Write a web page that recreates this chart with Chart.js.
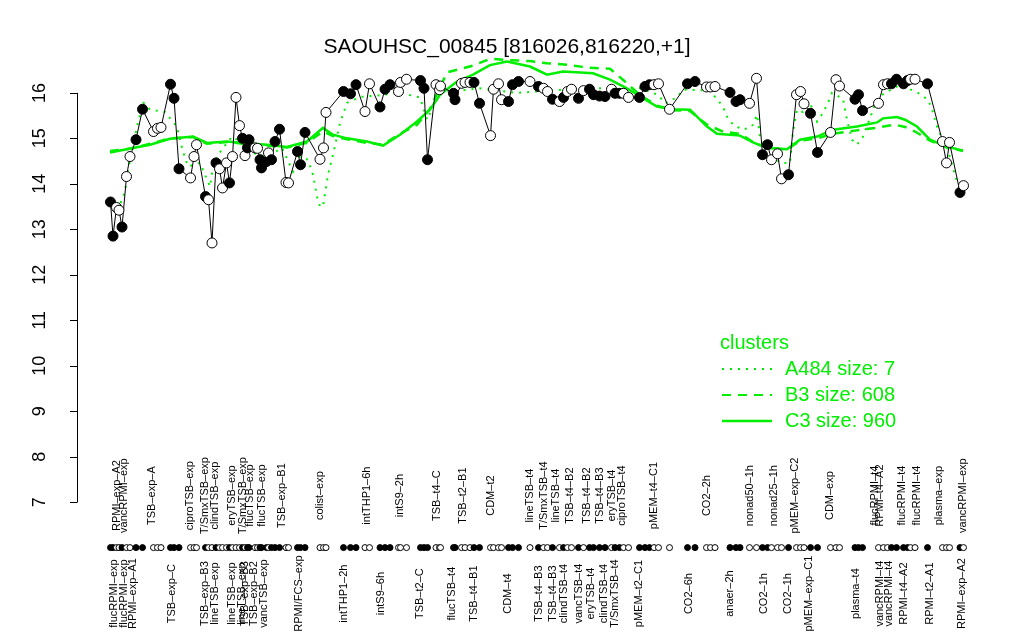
<!DOCTYPE html>
<html>
<head>
<meta charset="utf-8">
<script src="https://cdn.jsdelivr.net/npm/chart.js@4/dist/chart.umd.min.js"></script>
<style>
  html, body { margin: 0; padding: 0; background: #fff; }
  #wrap { width: 1024px; height: 640px; }
</style>
</head>
<body>
<div id="wrap"><canvas id="c" width="1024" height="640"></canvas></div>
<script>
// sample positions along the x axis (arbitrary units, 1 unit ~ one sample slot)
const X_POS = [6.5,7.0,7.7,8.2,8.8,9.7,10.4,11.6,12.9,15.1,15.9,16.6,18.5,19.2,20.2,22.5,23.2,23.7,25.5,26.1,
  26.8,27.6,28.3,28.9,29.7,30.3,30.9,31.6,32.3,32.9,33.4,33.9,34.2,35.4,35.9,36.4,36.7,37.7,38.1,38.7,
  39.4,40.3,41.6,42.1,43.9,44.5,45.4,48.4,49.1,49.6,53.1,54.5,55.6,57.4,58.3,60.4,61.4,62.4,64.1,64.5,
  65.7,68.5,69.2,69.9,71.6,72.3,72.5,75.1,75.4,76.7,77.4,78.4,79.2,80.3,82.5,83.1,84.1,84.7,86.1,86.9,
  88.1,90.4,92.1,93.1,93.9,94.9,96.3,97.1,97.9,98.7,100.1,101.1,102.3,103.1,104.3,105.4,106.7,107.4,108.3,109.1,
  110.1,112.3,113.4,114.3,115.2,116.1,118.3,121.9,123.4,125.7,126.5,127.4,130.4,131.6,132.4,134.3,135.7,136.9,137.9,138.7,
  139.9,140.7,142.1,143.7,144.5,145.2,146.5,147.9,150.5,151.6,152.3,155.4,156.1,156.9,160.1,161.1,161.9,162.7,163.7,165.1,
  165.9,166.5,167.4,169.9,172.9,173.7,174.3,176.4,177.1];
const VALUES = [13.60,12.85,13.48,13.42,13.05,14.16,14.60,14.97,15.64,15.15,15.22,15.24,16.19,15.88,14.33,14.13,14.60,14.86,13.72,13.65,
  12.70,14.46,14.33,13.91,14.46,14.02,14.60,15.90,15.28,15.00,14.62,14.79,14.97,14.79,14.78,14.53,14.35,14.49,14.68,14.53,
  14.93,15.20,14.03,14.02,14.71,14.42,15.13,14.54,14.79,15.57,16.03,15.98,16.18,15.59,16.20,15.69,16.08,16.18,16.03,16.23,
  16.30,16.27,16.10,14.53,16.18,16.07,16.15,15.99,15.85,16.21,16.23,16.23,16.23,15.77,15.06,16.08,16.20,15.85,15.81,16.18,
  16.25,16.25,16.14,16.10,16.03,15.86,15.81,15.90,16.03,16.08,15.88,16.05,16.08,15.96,15.93,15.92,16.08,15.99,15.99,15.99,
  15.90,15.90,16.14,16.18,16.18,16.20,15.64,16.20,16.25,16.13,16.13,16.14,16.01,15.81,15.85,15.77,16.32,14.64,14.86,14.53,
  14.66,14.11,14.20,15.96,16.03,15.76,15.55,14.69,15.13,16.29,16.15,15.86,15.96,15.61,15.77,16.18,16.20,16.20,16.30,16.20,
  16.27,16.30,16.30,16.20,14.93,14.46,14.91,13.81,13.96];
const FILLED = [1,1,0,0,1,0,0,1,1,0,0,0,1,1,1,0,0,0,1,0,
  0,1,0,0,0,1,0,0,0,1,0,1,1,0,0,1,1,1,0,1,
  1,1,0,0,1,1,1,0,0,0,1,1,1,0,0,1,1,1,0,0,
  0,1,1,1,0,0,0,1,1,0,0,0,1,1,0,0,0,0,1,1,
  1,0,1,0,0,1,0,1,0,0,1,0,1,1,1,1,0,1,1,0,
  0,1,1,1,0,0,0,1,1,0,0,0,1,1,1,0,0,1,1,0,
  0,0,1,0,0,0,1,1,0,0,0,1,1,1,0,0,0,1,1,1,
  1,0,0,1,0,0,0,1,0];

// cluster profiles
const C3_POS = [6.4,11,14.4,18.4,23,25.8,29.8,33,37.8,41.8,45.8,49,51,53.8,57.8,61,64.4,67.8,70.4,72.4,
  75.8,79,82.4,85.8,90.4,93.8,97,103,106.4,109.8,112.4,115.8,119,122.4,125.8,127.8,132.4,135,137.8,141.8,
  144.4,147.8,151,155.8,159.8,161,163.8,165.4,167.8,170.4,173.8,177];
const C3_VAL = [14.69,14.79,14.86,14.99,15.04,14.90,14.93,14.90,14.86,14.81,14.93,15.23,15.08,15.00,14.93,14.84,15.08,15.37,15.63,15.96,
  16.25,16.40,16.61,16.69,16.58,16.40,16.47,16.43,16.29,16.10,15.92,15.70,15.64,15.63,15.26,15.10,15.06,14.91,14.79,14.76,
  14.97,15.04,15.19,15.26,15.35,15.44,15.47,15.41,15.26,14.97,14.82,14.73];
const B3_POS = [6.4,11,14.4,18.4,23,25.8,29.8,33,37.8,41.8,45.8,49,51,53.8,57.8,61,64.4,67.8,70.4,73.8,
  79,82.4,85.8,90.4,93.8,97.8,102.4,106.4,109.4,112.4,115.8,119,122.4,125.8,129,132.4,135,137.8,141.8,144.4,
  147.8,151,155.4,159.4,163.4,165.4,167.4,170.4,173.8,177];
const B3_VAL = [14.72,14.78,14.88,15.00,15.03,14.88,14.92,14.88,14.84,14.80,14.90,15.15,15.05,14.98,14.90,14.86,15.10,15.30,15.65,16.45,
  16.60,16.75,16.72,16.70,16.65,16.62,16.55,16.53,16.25,15.95,15.72,15.62,15.60,15.30,15.15,15.10,14.92,14.80,14.75,14.95,
  15.00,15.10,15.17,15.23,15.30,15.25,15.15,14.95,14.80,14.72];
const A484_POS = [6.6,8,9.4,10,11.8,13,14.4,17.4,19.8,20.8,21.4,22,24.4,26.4,27,28,30.8,32.4,33.8,36,
  38,40.8,43,44.4,46,47,47.8,48.4,49,50,51,52.4,53.8,56.4,60.4,64.4,68.4,69.8,72.4,80.4,
  87.8,97,104.4,112.4,116,117.4,119.8,121,126.4,129,129.8,131,133,134.8,135.8,136.4,137.8,140.4,142.4,143,
  143.8,145,146.4,147.8,149,150,150.8,153,153.8,154.8,155.8,157,160,164.4,168,170,170.8,171.4,172,173.8,
  175.4,176,177];
const A484_VAL = [13.55,13.43,13.83,14.30,15.25,15.80,15.63,15.58,15.25,14.79,14.57,14.38,14.46,13.94,14.38,14.64,15.04,14.93,14.75,14.64,
  14.60,14.79,14.27,14.60,14.53,14.20,13.72,13.50,13.50,14.20,14.64,15.34,15.78,15.91,15.95,16.00,15.90,15.41,16.00,16.10,
  16.00,16.07,16.10,16.10,15.96,15.77,15.90,16.07,16.05,15.70,15.48,15.30,15.19,15.26,15.52,15.04,14.80,14.46,14.46,15.15,
  15.63,15.58,15.78,15.37,15.56,15.78,16.00,15.87,15.41,14.97,14.86,15.04,15.91,16.18,16.00,15.85,15.64,15.41,15.19,14.81,
  14.20,13.98,13.90];

const TOP_LABELS = ['RPMI–exp–A2','vancRPMI–exp','TSB–exp–A','ciproTSB–exp','T/SmxTSB–exp','clindTSB–exp','eryTSB–exp',
  'T/SmxTSB–exp','flucTSB–exp','flucTSB–exp','TSB–exp–B1','colist–exp','intTHP1–6h','intS9–2h','TSB–t4–C','TSB–t2–B1',
  'CDM–t2','lineTSB–t4','T/SmxTSB–t4','lineTSB–t4','TSB–t4–B2','TSB–t4–B2','TSB–t4–B3','eryTSB–t4','ciproTSB–t4',
  'pMEM–t4–C1','CO2–2h','nonad50–1h','nonad25–1h','pMEM–exp–C2','CDM–exp','flucRPMI–t4','RPMI–t4–A2','flucRPMI–t4',
  'flucRPMI–t4','plasma–exp','vancRPMI–exp'];
const TOP_LABEL_POS = [7.7,9.1,14.7,22.4,25.4,27.4,30.7,32.9,34.4,36.7,40.7,48.4,57.7,64.4,71.7,76.9,
  82.5,90.4,93.2,95.6,98.3,101.7,104.4,106.7,108.7,115.1,125.7,134.4,139.1,143.4,150.4,159.4,160.3,164.7,
  167.7,172.1,176.9];
const BOTTOM_LABELS = ['flucRPMI–exp','flucRPMI–exp','RPMI–exp–A1','TSB–exp–C','TSB–exp–B3','lineTSB–exp','lineTSB–exp',
  'lineTSB–exp','TSB–exp–B3','TSB–exp–B2','vancTSB–exp','RPMI/FCS–exp','intTHP1–2h','intS9–6h','TSB–t2–C','flucTSB–t4',
  'TSB–t4–B1','CDM–t4','TSB–t4–B3','TSB–t4–B3','clindTSB–t4','vancTSB–t4','eryTSB–t4','clindTSB–t4','T/SmxTSB–t4',
  'pMEM–t2–C1','CO2–6h','anaer–2h','CO2–1h','CO2–1h','pMEM–exp–C1','plasma–t4','vancRPMI–t4','vancRPMI–t4',
  'RPMI–t4–A2','RPMI–t2–A1','RPMI–exp–A2'];
const BOTTOM_LABEL_POS = [7.2,9.1,10.9,18.7,25.4,27.4,30.7,32.7,33.4,35.1,37.1,44.1,53.2,60.5,68.4,74.7,
  79.2,85.9,92.1,94.9,97.2,100.1,102.5,105.1,107.4,112.1,122.1,130.4,137.1,142.0,146.1,155.6,160.4,162.1,
  165.1,170.4,176.7];

const Y_TICKS = [7,8,9,10,11,12,13,14,15,16];
const DOT_ROW = 6.0;
const TITLE = 'SAOUHSC_00845 [816026,816220,+1]';
const LEGEND_TITLE = 'clusters';
const LEGEND_ITEMS = ['A484 size: 7', 'B3 size: 608', 'C3 size: 960'];

const GREEN = '#00ee00';
const pts = X_POS.map((x, i) => ({ x: x, y: VALUES[i] }));
const fills = FILLED.map(f => f ? '#000' : '#fff');

const rDecor = {
  id: 'rDecor',
  afterDraw(chart) {
    const ctx = chart.ctx, xs = chart.scales.x, ys = chart.scales.y;
    const left = chart.chartArea.left;
    ctx.save();
    ctx.fillStyle = '#000';
    ctx.strokeStyle = '#000';
    ctx.lineWidth = 1;
    // y axis, R style: line only between first and last tick
    ctx.beginPath();
    ctx.moveTo(left + 0.5, ys.getPixelForValue(16));
    ctx.lineTo(left + 0.5, ys.getPixelForValue(7));
    Y_TICKS.forEach(v => {
      const py = Math.round(ys.getPixelForValue(v)) + 0.5;
      ctx.moveTo(left - 7, py);
      ctx.lineTo(left + 0.5, py);
    });
    ctx.stroke();
    ctx.font = '18px "Liberation Sans", Arial, sans-serif';
    ctx.textAlign = 'center';
    ctx.textBaseline = 'middle';
    Y_TICKS.forEach(v => {
      ctx.save();
      ctx.translate(left - 37, ys.getPixelForValue(v));
      ctx.rotate(-Math.PI / 2);
      ctx.fillText(String(v), 0, 0);
      ctx.restore();
    });
    // sample labels above and below the dot row
    const rowPx = ys.getPixelForValue(DOT_ROW);
    ctx.font = '11px "Liberation Sans", Arial, sans-serif';
    const vlabel = (txt, pos, py) => {
      ctx.save();
      ctx.translate(xs.getPixelForValue(pos), py);
      ctx.rotate(-Math.PI / 2);
      ctx.fillText(txt, 0, 0);
      ctx.restore();
    };
    TOP_LABELS.forEach((t, i) => vlabel(t, TOP_LABEL_POS[i], rowPx - 52));
    BOTTOM_LABELS.forEach((t, i) => vlabel(t, BOTTOM_LABEL_POS[i], rowPx + 46));
    // title
    ctx.font = '21px "Liberation Sans", Arial, sans-serif';
    ctx.fillText(TITLE, 507, 47);
    // legend
    ctx.fillStyle = GREEN;
    ctx.strokeStyle = GREEN;
    ctx.font = '20px "Liberation Sans", Arial, sans-serif';
    ctx.textAlign = 'left';
    ctx.fillText(LEGEND_TITLE, 720, 343);
    const dashes = [[2, 6], [9, 7], []];
    LEGEND_ITEMS.forEach((t, i) => {
      const py = 369 + i * 26;
      ctx.setLineDash(dashes[i]);
      ctx.lineWidth = i === 2 ? 2.5 : 2;
      ctx.beginPath();
      ctx.moveTo(722, py);
      ctx.lineTo(772, py);
      ctx.stroke();
      ctx.fillText(t, 785, py);
    });
    ctx.restore();
  }
};

new Chart(document.getElementById('c'), {
  type: 'scatter',
  data: {
    datasets: [
      {
        label: 'profile',
        data: pts,
        showLine: true,
        borderColor: '#000',
        borderWidth: 1,
        pointRadius: 5,
        pointBorderWidth: 1,
        pointBorderColor: '#000',
        pointBackgroundColor: fills
      },
      {
        label: 'samples',
        data: X_POS.map(x => ({ x: x, y: DOT_ROW })),
        showLine: false,
        pointRadius: 3,
        pointBorderWidth: 1,
        pointBorderColor: '#000',
        pointBackgroundColor: fills
      },
      {
        label: 'A484',
        data: A484_POS.map((x, i) => ({ x: x, y: A484_VAL[i] })),
        showLine: true,
        borderColor: GREEN,
        borderWidth: 2,
        borderDash: [2, 6],
        pointRadius: 0
      },
      {
        label: 'B3',
        data: B3_POS.map((x, i) => ({ x: x, y: B3_VAL[i] })),
        showLine: true,
        borderColor: GREEN,
        borderWidth: 2.5,
        borderDash: [9, 7],
        pointRadius: 0
      },
      {
        label: 'C3',
        data: C3_POS.map((x, i) => ({ x: x, y: C3_VAL[i] })),
        showLine: true,
        borderColor: GREEN,
        borderWidth: 2.5,
        pointRadius: 0
      }
    ]
  },
  options: {
    responsive: false,
    animation: false,
    events: [],
    layout: { padding: { left: 77, right: 25, top: 56.5, bottom: 4.9 } },
    scales: {
      x: { type: 'linear', min: -0.2, max: 184.2, display: false },
      y: { type: 'linear', min: 4.1, max: 16.8, display: false }
    },
    plugins: {
      legend: { display: false },
      title: { display: false },
      tooltip: { enabled: false }
    }
  },
  plugins: [rDecor]
});
</script>
</body>
</html>
